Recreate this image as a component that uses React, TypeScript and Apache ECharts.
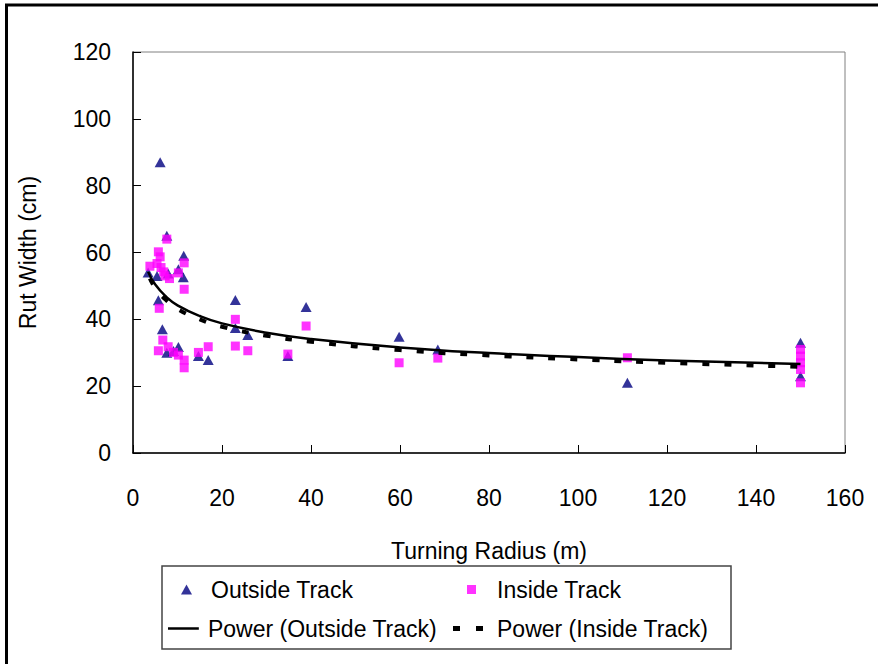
import React, { useEffect, useRef } from "react";
import * as echarts from "echarts";

// Outside Track (triangles): turning radius (m), rut width (cm)
const outsideX = [6.1, 7.6, 11.4, 10.2, 11.3, 3.4, 5.4, 7.9, 5.7, 6.6, 7.6, 9.1, 10.2, 16.9, 14.7, 23.0, 23.0, 25.8, 34.8, 38.9, 59.8, 68.5, 111.1, 150, 150];
const outsideY = [87, 65, 59, 55, 52.6, 54, 53, 53.7, 45.7, 37, 30, 30.5, 31.7, 27.8, 29, 45.8, 37.4, 35.3, 29, 43.7, 34.8, 31, 21, 33, 23];

// Inside Track (squares)
const insideX = [7.6, 5.7, 6.1, 3.8, 5.4, 6.9, 8.2, 10.2, 11.5, 11.5, 6.3, 7.2, 5.9, 6.7, 5.7, 7.9, 9.1, 10.2, 11.5, 11.5, 14.7, 16.9, 23.0, 23.0, 25.8, 34.8, 38.9, 59.8, 68.5, 111.1, 150, 150, 150, 150, 150];
const insideY = [64, 60.2, 58.7, 55.9, 56.7, 54.2, 52.2, 53.9, 56.9, 49, 55.5, 53, 43.3, 33.8, 30.6, 31.8, 30.1, 29.3, 27.8, 25.5, 30.1, 31.8, 40, 32, 30.6, 29.6, 38, 27, 28.4, 28.5, 31, 29, 27, 25, 21];

// Trend lines
const trendOutsideX = [3.4, 5, 7.5, 10, 15, 20, 30, 40, 60, 80, 100, 120, 150];
const trendOutsideY = [54.2, 50.4, 46.7, 44.2, 41.0, 38.8, 36.0, 34.1, 31.6, 29.9, 28.7, 27.7, 26.6];
const trendInsideX = [3.8, 5, 7.5, 10, 15, 20, 30, 40, 60, 80, 100, 120, 150];
const trendInsideY = [52.2, 49.4, 45.7, 43.1, 40.0, 37.8, 35.1, 33.3, 30.8, 29.2, 28.0, 27.0, 25.8];

const FONT = "'Liberation Sans', Arial, sans-serif";
const FS = 23;

const zip = (xs: number[], ys: number[]) => xs.map((x, i) => [x, ys[i]]);

export default function App() {
  const ref = useRef<HTMLDivElement>(null);
  useEffect(() => {
    document.body.style.margin = "0";
    if (!ref.current) return;
    const chart = echarts.init(ref.current, undefined, { renderer: "svg" });
    const legendBase = {
      orient: "vertical" as const,
      padding: 0,
      selectedMode: false,
    };
    const txt = (pad: number) => ({
      fontSize: FS,
      color: "#000",
      fontFamily: FONT,
      padding: [0, 0, 0, pad],
    });
    chart.setOption({
      animation: false,
      backgroundColor: "#fff",
      textStyle: { fontFamily: FONT },
      grid: {
        left: 133,
        top: 52,
        width: 712,
        height: 401,
        show: true,
        borderColor: "#808080",
        borderWidth: 1,
        backgroundColor: "#fff",
      },
      xAxis: {
        type: "value",
        min: 0,
        max: 160,
        interval: 20,
        name: "Turning Radius (m)",
        nameLocation: "middle",
        nameGap: 86,
        nameTextStyle: { fontSize: FS, color: "#000", fontFamily: FONT },
        axisLine: { lineStyle: { color: "#000", width: 1.5 } },
        axisTick: { inside: true, length: 8, lineStyle: { color: "#000" } },
        axisLabel: { fontSize: FS, color: "#000", margin: 33, fontFamily: FONT },
        splitLine: { show: false },
      },
      yAxis: {
        type: "value",
        min: 0,
        max: 120,
        interval: 20,
        name: "Rut Width (cm)",
        nameLocation: "middle",
        nameGap: 94,
        nameRotate: 90,
        nameTextStyle: { fontSize: FS, color: "#000", fontFamily: FONT },
        axisLine: { show: true, lineStyle: { color: "#000", width: 1.5 } },
        axisTick: { show: true, inside: true, length: 8, lineStyle: { color: "#000" } },
        axisLabel: { fontSize: FS, color: "#000", margin: 22, fontFamily: FONT },
        splitLine: { show: false },
      },
      legend: [
        {
          ...legendBase,
          left: 181,
          top: 578,
          itemWidth: 11,
          itemHeight: 10,
          textStyle: txt(14),
          data: [{ name: "Outside Track", icon: "triangle" }],
        },
        {
          ...legendBase,
          left: 467,
          top: 578,
          itemWidth: 9,
          itemHeight: 9,
          textStyle: txt(16),
          data: [{ name: "Inside Track", icon: "rect" }],
        },
        {
          ...legendBase,
          left: 168,
          top: 617,
          itemWidth: 37,
          itemHeight: 2.5,
          textStyle: txt(1),
          data: [{ name: "Power (Outside Track)", icon: "path://M0,0L37,0L37,3L0,3Z" }],
        },
        {
          ...legendBase,
          left: 453,
          top: 617,
          itemWidth: 30,
          itemHeight: 5,
          textStyle: txt(9),
          data: [{ name: "Power (Inside Track)", icon: "path://M0,0L7,0L7,5L0,5Z M23,0L30,0L30,5L23,5Z" }],
        },
      ],
      graphic: [
        {
          type: "rect",
          shape: { x: 162, y: 566, width: 569, height: 83 },
          style: { fill: "none", stroke: "#444", lineWidth: 1.5 },
          silent: true,
        },
        {
          type: "line",
          shape: { x1: 6.5, y1: 5, x2: 6.5, y2: 664 },
          style: { stroke: "#000", lineWidth: 3 },
          silent: true,
        },
        {
          type: "line",
          shape: { x1: 5, y1: 5, x2: 878, y2: 5 },
          style: { stroke: "#000", lineWidth: 3 },
          silent: true,
        },
      ],
      series: [
        {
          name: "Outside Track",
          type: "scatter",
          symbol: "triangle",
          symbolSize: [11, 10],
          itemStyle: { color: "#000080" },
          data: zip(outsideX, outsideY),
        },
        {
          name: "Inside Track",
          type: "scatter",
          symbol: "rect",
          symbolSize: 9,
          itemStyle: { color: "#FF00FF" },
          data: zip(insideX, insideY),
        },
        {
          name: "Power (Inside Track)",
          type: "line",
          smooth: true,
          symbol: "none",
          lineStyle: { color: "#000", width: 4, type: [7, 15] },
          itemStyle: { color: "#000" },
          data: zip(trendInsideX, trendInsideY),
        },
        {
          name: "Power (Outside Track)",
          type: "line",
          smooth: true,
          symbol: "none",
          lineStyle: { color: "#000", width: 2.5, type: "solid" },
          itemStyle: { color: "#000" },
          data: zip(trendOutsideX, trendOutsideY),
        },
      ],
    });
    return () => chart.dispose();
  }, []);
  return <div ref={ref} style={{ width: 878, height: 664 }} />;
}
